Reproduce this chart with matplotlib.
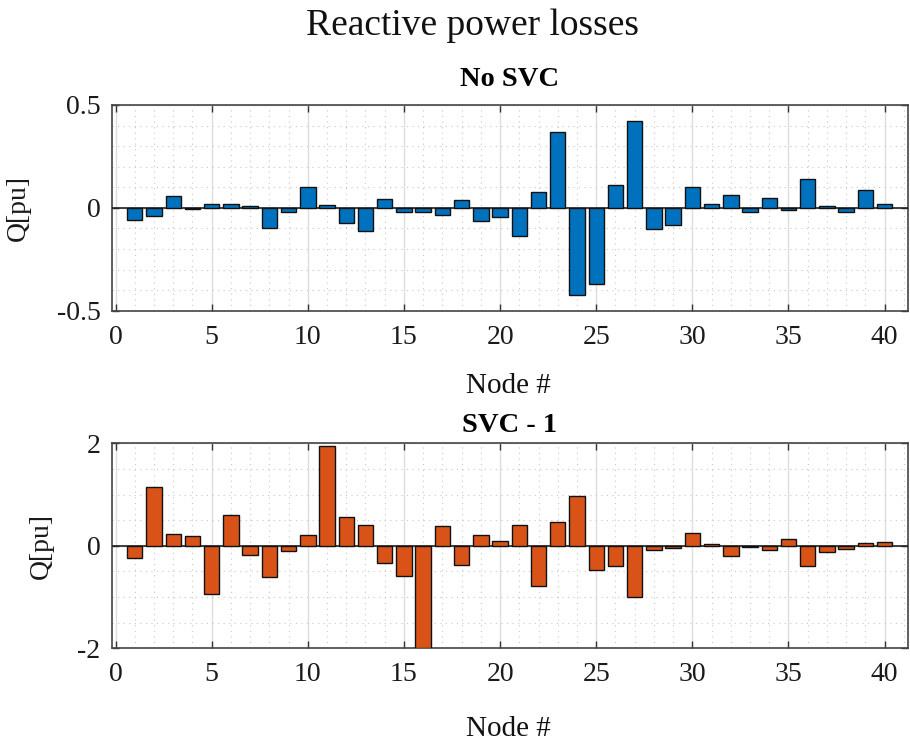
import numpy as np
import matplotlib
matplotlib.use("Agg")
import matplotlib.pyplot as plt
from matplotlib.ticker import MultipleLocator

plt.rcParams['font.family'] = ['Liberation Serif', 'DejaVu Serif']

nodes = list(range(1, 41))

q_no_svc = [-0.057, -0.042, 0.057, -0.008, 0.018, 0.018, 0.008, -0.100, -0.018, 0.100,
            0.016, -0.075, -0.114, 0.044, -0.020, -0.018, -0.037, 0.039, -0.065, -0.044,
            -0.138, 0.075, 0.371, -0.423, -0.369, 0.112, 0.423, -0.104, -0.085, 0.102,
            0.020, 0.063, -0.020, 0.046, -0.011, 0.141, 0.011, -0.021, 0.086, 0.021]

q_svc1 = [-0.234, 1.145, 0.234, 0.182, -0.943, 0.592, -0.182, -0.605, -0.111, 0.208,
          1.945, 0.553, 0.397, -0.332, -0.598, -2.000, 0.384, -0.384, 0.208, 0.091,
          0.397, -0.787, 0.468, 0.969, -0.475, -0.403, -1.001, -0.078, -0.046, 0.241,
          0.033, -0.202, -0.033, -0.085, 0.124, -0.403, -0.124, -0.065, 0.046, 0.065]

x_ticks = [0, 5, 10, 15, 20, 25, 30, 35, 40]

W, H = 910, 746
fig = plt.figure(figsize=(W / 100, H / 100), dpi=100)


def px_axes(left, top, right, bottom):
    return fig.add_axes([left / W, 1 - bottom / H, (right - left) / W, (bottom - top) / H])


def style(ax, ylim, ymajor, yminor, ticklabels):
    ax.set_xlim(-0.2, 41.2)
    ax.set_ylim(*ylim)
    ax.set_xticks(x_ticks)
    ax.xaxis.set_minor_locator(MultipleLocator(1))
    ax.set_yticks(ymajor)
    ax.set_yticklabels(ticklabels)
    ax.yaxis.set_minor_locator(MultipleLocator(yminor))
    ax.grid(True, which='major', color='#dedede', linewidth=1.0, linestyle='-')
    ax.grid(True, which='minor', color='#c8c8c8', linewidth=0.8, linestyle=(0, (1, 4)))
    ax.set_axisbelow(True)
    ax.tick_params(which='major', direction='in', length=5, width=1.0, color='#333333',
                   top=True, right=True, labelsize=20, labelcolor='#1a1a1a')
    ax.tick_params(axis='x', which='major', pad=10)
    ax.tick_params(axis='y', which='major', pad=8)
    ax.tick_params(which='minor', length=0)
    for s in ax.spines.values():
        s.set_color('#444444')
        s.set_linewidth(1.2)
    ax.axhline(0, color='#222222', linewidth=1.2, zorder=3)
    ax.set_ylabel('Q[pu]', fontsize=20, color='#1a1a1a')


ax1 = px_axes(111.7, 105, 907.7, 310.7)
ax1.bar(nodes, q_no_svc, width=0.8, color='#0072BD', edgecolor='#111111', linewidth=1.0, zorder=4)
style(ax1, (-0.5, 0.5), [-0.5, 0, 0.5], 0.1, ['-0.5', '0', '0.5'])
ax1.yaxis.set_label_coords(-0.101, 0.5)
ax1.set_title('No SVC', fontsize=20.5, fontweight='bold', pad=14)

ax2 = px_axes(111.7, 443.3, 907.7, 648.3)
ax2.bar(nodes, q_svc1, width=0.8, color='#D95319', edgecolor='#111111', linewidth=1.0, zorder=4)
style(ax2, (-2, 2), [-2, 0, 2], 0.5, ['-2', '0', '2'])
ax2.yaxis.set_label_coords(-0.073, 0.5)
ax2.set_title('SVC - 1', fontsize=20.5, fontweight='bold', pad=8)

fig.text(472.5 / W, 1 - 35 / H, 'Reactive power losses', fontsize=27, ha='center',
         va='baseline', color='#111111')
fig.text(508 / W, 1 - 393 / H, 'Node #', fontsize=21, ha='center', va='baseline', color='#111111')
fig.text(508 / W, 1 - 736.5 / H, 'Node #', fontsize=21, ha='center', va='baseline', color='#111111')

fig.savefig('out.png', dpi=100, facecolor='white')
